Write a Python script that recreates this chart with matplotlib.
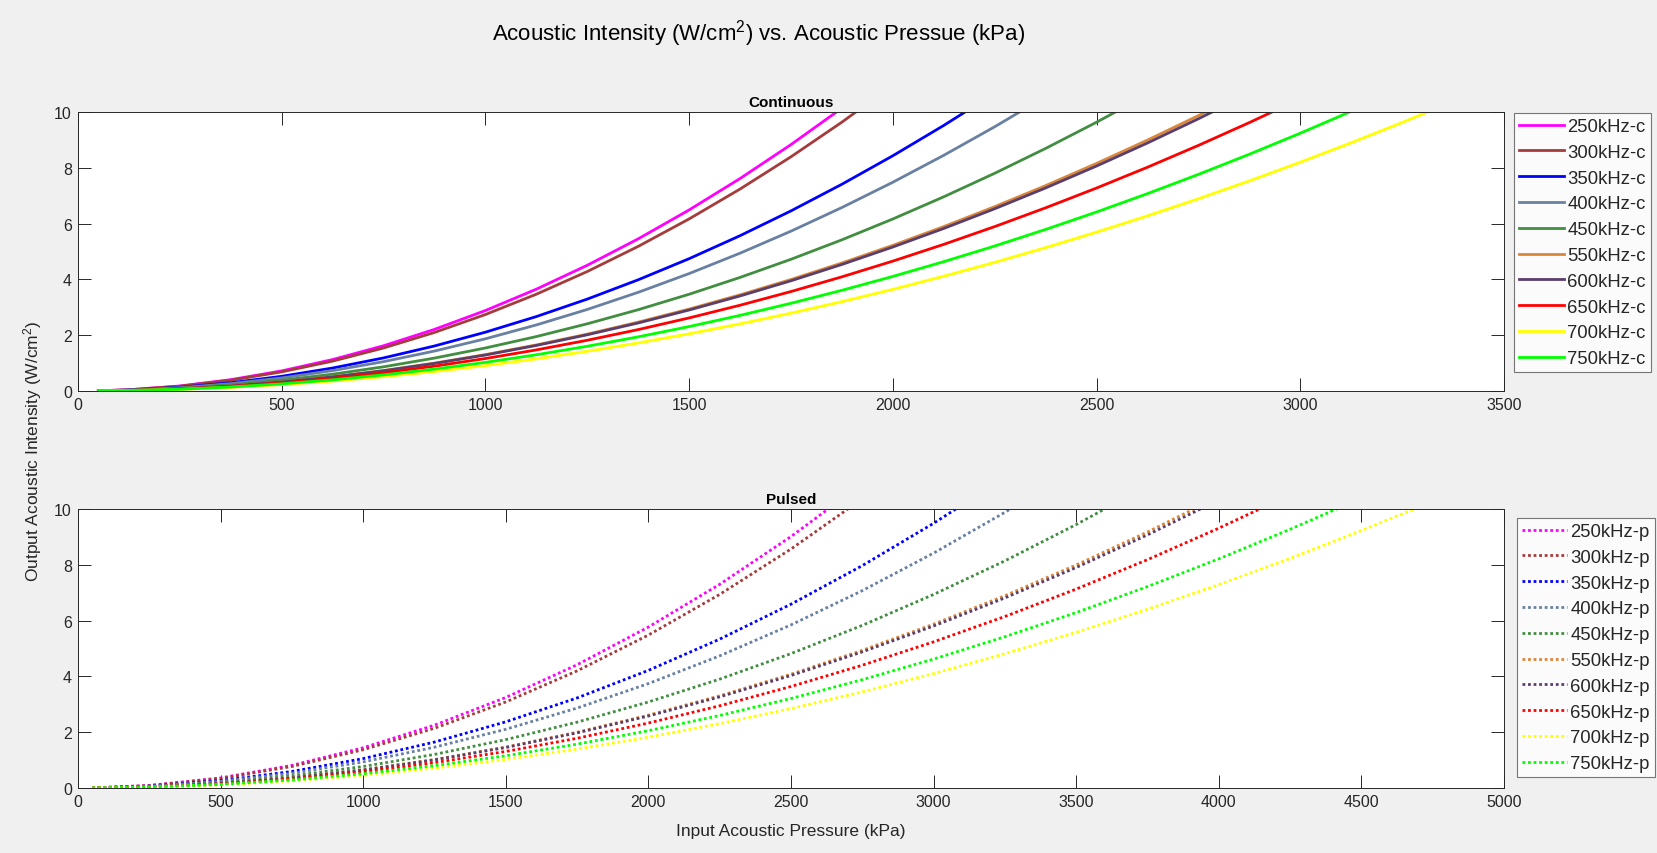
import matplotlib; matplotlib.use("Agg")
import matplotlib.pyplot as plt

BG = "#F0F0F0"; AX = "#262626"
plt.rcParams.update({"font.family": "Liberation Sans", "text.color": AX,
                     "mathtext.fontset": "custom", "mathtext.rm": "Liberation Sans",
                     "mathtext.it": "Liberation Sans:italic", "mathtext.bf": "Liberation Sans:bold"})

# pressure grid (kPa) shared by the curves of each panel
P_CONT = [50, 125, 250, 375, 500, 625, 750, 875, 1000, 1125, 1250, 1375, 1500, 1625, 1750, 1875,
          2000, 2125, 2250, 2375, 2500, 2625, 2750, 2875, 3000, 3125, 3250, 3375]
P_PULS = [50, 250, 500, 750, 1000, 1250, 1500, 1750, 2000, 2250, 2500, 2750, 3000, 3250, 3500,
          3750, 4000, 4250, 4500, 4750, 5000]

FREQS = ["250kHz", "300kHz", "350kHz", "400kHz", "450kHz", "550kHz", "600kHz", "650kHz", "700kHz", "750kHz"]
COLORS = ["#FF00FF", "#A63B3B", "#0000FF", "#6880A2", "#418E41", "#DA873A", "#5A3E6E", "#FF0000", "#FFFF00", "#00FF00"]

# intensity (W/cm^2) read at each grid pressure, continuous mode
I_250C = [0.007, 0.045, 0.180, 0.406, 0.721, 1.127, 1.622, 2.208, 2.884, 3.650, 4.507, 5.453, 6.490, 7.616, 8.833, 10.140]
I_300C = [0.007, 0.043, 0.171, 0.386, 0.685, 1.071, 1.542, 2.099, 2.741, 3.469, 4.283, 5.183, 6.168, 7.239, 8.395, 9.637, 10.965]
I_350C = [0.005, 0.033, 0.132, 0.297, 0.527, 0.824, 1.186, 1.614, 2.108, 2.668, 3.294, 3.986, 4.743, 5.567, 6.456, 7.411,
          8.432, 9.519, 10.672]
I_400C = [0.005, 0.029, 0.117, 0.263, 0.468, 0.731, 1.052, 1.432, 1.871, 2.368, 2.923, 3.537, 4.209, 4.940, 5.729, 6.577,
          7.483, 8.448, 9.471, 10.553]
I_450C = [0.004, 0.024, 0.096, 0.217, 0.385, 0.602, 0.867, 1.180, 1.542, 1.951, 2.409, 2.914, 3.468, 4.071, 4.721, 5.419,
          6.166, 6.961, 7.804, 8.695, 9.634, 10.622]
I_550C = [0.003, 0.020, 0.082, 0.184, 0.326, 0.510, 0.734, 0.999, 1.305, 1.652, 2.039, 2.468, 2.937, 3.447, 3.997, 4.589,
          5.221, 5.894, 6.608, 7.362, 8.158, 8.994, 9.871, 10.788]
I_600C = [0.003, 0.020, 0.081, 0.181, 0.323, 0.504, 0.726, 0.988, 1.290, 1.633, 2.016, 2.439, 2.903, 3.407, 3.951, 4.536,
          5.161, 5.826, 6.532, 7.278, 8.064, 8.890, 9.757, 10.664]
I_650C = [0.003, 0.018, 0.073, 0.164, 0.291, 0.455, 0.655, 0.891, 1.164, 1.473, 1.819, 2.201, 2.619, 3.074, 3.565, 4.092,
          4.656, 5.256, 5.893, 6.566, 7.275, 8.021, 8.803, 9.621, 10.476]
I_700C = [0.002, 0.014, 0.057, 0.128, 0.228, 0.356, 0.513, 0.698, 0.911, 1.153, 1.424, 1.723, 2.050, 2.406, 2.790, 3.203,
          3.644, 4.114, 4.612, 5.139, 5.694, 6.278, 6.890, 7.531, 8.200, 8.897, 9.623, 10.378]
I_750C = [0.003, 0.016, 0.064, 0.144, 0.257, 0.401, 0.578, 0.786, 1.027, 1.299, 1.604, 1.941, 2.310, 2.711, 3.144, 3.609,
          4.107, 4.636, 5.197, 5.791, 6.416, 7.074, 7.764, 8.486, 9.240, 10.026]

# pulsed mode
I_250P = [0.004, 0.090, 0.361, 0.811, 1.442, 2.253, 3.245, 4.417, 5.769, 7.301, 9.013, 10.906]
I_300P = [0.003, 0.086, 0.343, 0.771, 1.371, 2.142, 3.084, 4.198, 5.482, 6.939, 8.566, 10.365]
I_350P = [0.003, 0.066, 0.264, 0.593, 1.054, 1.647, 2.372, 3.228, 4.216, 5.336, 6.588, 7.971, 9.487, 11.134]
I_400P = [0.002, 0.058, 0.234, 0.526, 0.935, 1.462, 2.105, 2.865, 3.742, 4.736, 5.846, 7.074, 8.419, 9.880, 11.459]
I_450P = [0.002, 0.048, 0.193, 0.434, 0.771, 1.204, 1.734, 2.360, 3.083, 3.902, 4.817, 5.829, 6.937, 8.141, 9.442, 10.839]
I_550P = [0.002, 0.041, 0.163, 0.367, 0.653, 1.020, 1.468, 1.999, 2.610, 3.304, 4.079, 4.935, 5.873, 6.893, 7.994, 9.177, 10.442]
I_600P = [0.002, 0.040, 0.161, 0.363, 0.645, 1.008, 1.452, 1.976, 2.580, 3.266, 4.032, 4.879, 5.806, 6.814, 7.903, 9.072, 10.322]
I_650P = [0.001, 0.036, 0.146, 0.327, 0.582, 0.909, 1.310, 1.782, 2.328, 2.946, 3.638, 4.401, 5.238, 6.147, 7.130, 8.184,
          9.312, 10.512]
I_700P = [0.001, 0.028, 0.114, 0.256, 0.456, 0.712, 1.025, 1.395, 1.822, 2.306, 2.847, 3.445, 4.100, 4.812, 5.580, 6.406,
          7.289, 8.228, 9.225, 10.278]
I_750P = [0.001, 0.032, 0.128, 0.289, 0.513, 0.802, 1.155, 1.572, 2.053, 2.599, 3.208, 3.882, 4.620, 5.422, 6.288, 7.219,
          8.213, 9.272, 10.395]

CONT = [I_250C, I_300C, I_350C, I_400C, I_450C, I_550C, I_600C, I_650C, I_700C, I_750C]
PULS = [I_250P, I_300P, I_350P, I_400P, I_450P, I_550P, I_600P, I_650P, I_700P, I_750P]

W, H = 1657, 854
fig = plt.figure(figsize=(W / 100, H / 100), dpi=100)
fig.patch.set_facecolor(BG)

def frac(l, t, r, b):
    return [l / W, 1 - b / H, (r - l) / W, (b - t) / H]

ax1 = fig.add_axes(frac(78, 113, 1504, 392))
ax2 = fig.add_axes(frac(78, 510, 1504, 789))

for f, c, y in zip(FREQS, COLORS, CONT):
    ax1.plot(P_CONT[:len(y)], y, color=c, lw=2, label=f + "-c")
for f, c, y in zip(FREQS, COLORS, PULS):
    ax2.plot(P_PULS[:len(y)], y, color=c, lw=2, ls=(0, (1, 1)), label=f + "-p")

for ax, xmax, ttl in [(ax1, 3500, "Continuous"), (ax2, 5000, "Pulsed")]:
    ax.set_xlim(0, xmax); ax.set_ylim(0, 10)
    ax.set_xticks(range(0, xmax + 1, 500)); ax.set_yticks(range(0, 11, 2))
    ax.tick_params(direction="in", length=9.4, width=0.7, top=True, right=True,
                   labelsize=11.5, colors=AX, pad=4.5)
    for sp in ax.spines.values():
        sp.set_color(AX); sp.set_linewidth(0.7)
    ax.set_title(ttl, fontsize=11, fontweight="bold", pad=4, color="black")

leg_kw = dict(loc="upper left", fontsize=13.3, frameon=True, fancybox=False, borderaxespad=0,
              handlelength=2.45, handletextpad=0.15, labelspacing=0.475, borderpad=0.28,
              bbox_transform=fig.transFigure)
l1 = ax1.legend(bbox_to_anchor=(1514 / W, 1 - 114 / H), **leg_kw)
l2 = ax2.legend(bbox_to_anchor=(1517 / W, 1 - 519 / H), **leg_kw)
for lg in (l1, l2):
    lg.get_frame().set_edgecolor("#555555"); lg.get_frame().set_linewidth(0.8)

fig.text(759 / W, 1 - 34 / H, r"Acoustic Intensity (W/cm$^2$) vs. Acoustic Pressue (kPa)",
         ha="center", va="center", fontsize=16, color="black")
fig.text(33 / W, 1 - 451 / H, r"Output Acoustic Intensity (W/cm$^2$)", rotation=90,
         ha="center", va="center", fontsize=12.5, color=AX)
fig.text(791 / W, 1 - 832 / H, "Input Acoustic Pressure (kPa)", ha="center", va="center",
         fontsize=12.5, color=AX)

fig.savefig("out.png", dpi=100, facecolor=BG)
